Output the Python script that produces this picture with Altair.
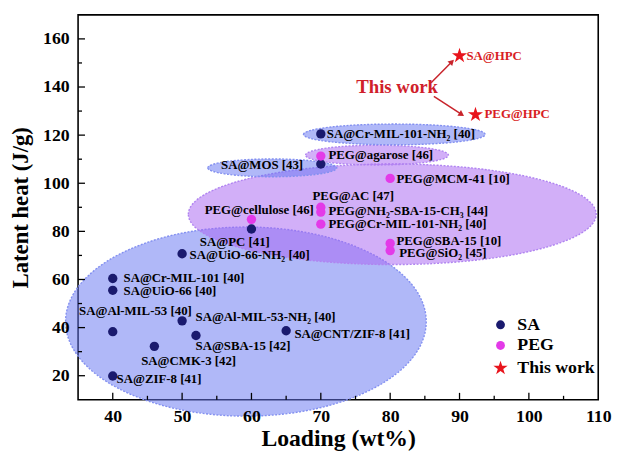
import math
import altair as alt
import pandas as pd

# ---------------- data ----------------
sa_names = ["SA@Cr-MIL-101-NH₂ [40]", "SA@MOS [43]", "SA@PC [41]", "SA@UiO-66-NH₂ [40]",
            "SA@Cr-MIL-101 [40]", "SA@UiO-66 [40]", "SA@Al-MIL-53 [40]", "SA@Al-MIL-53-NH₂ [40]",
            "SA@SBA-15 [42]", "SA@CMK-3 [42]", "SA@CNT/ZIF-8 [41]", "SA@ZIF-8 [41]"]
sa_loading = [70, 70, 60, 50, 40, 40, 40, 50, 52, 46, 65, 40]
sa_heat = [120.5, 108, 81, 70.7, 60.4, 55.5, 38.3, 42.8, 36.7, 32.2, 38.7, 19.9]

peg_names = ["PEG@agarose [46]", "PEG@MCM-41 [10]", "PEG@cellulose [46]", "PEG@AC [47]",
             "PEG@NH₂-SBA-15-CH₃ [44]", "PEG@Cr-MIL-101-NH₂ [40]", "PEG@SBA-15 [10]", "PEG@SiO₂ [45]"]
peg_loading = [70, 80, 60, 70, 70, 70, 80, 80]
peg_heat = [111.3, 102, 85, 90, 88, 83, 75, 72]

hpc_names = ["SA@HPC", "PEG@HPC"]
hpc_loading = [90, 92.3]
hpc_heat = [153, 128.5]

groups = ["SA", "PEG", "This work"]

# label anchors (data units)
sa_lbl_x = [70.86, 67.45, 57.6, 51.08, 41.55, 41.55, 35.14, 51.93, 51.93, 44.1, 66.2, 40.55]
sa_lbl_y = [120.5, 107.6, 75.7, 70.0, 60.6, 55.1, 47.0, 44.2, 32.3, 26.2, 37.2, 18.8]
sa_lbl_align = ["left", "right", "center", "left", "left", "left", "left", "left",
                "left", "left", "left", "left"]
peg_lbl_x = [71.1, 80.9, 69.0, 68.8, 71.1, 71.1, 80.9, 81.3]
peg_lbl_y = [111.7, 101.9, 88.9, 94.6, 88.4, 82.9, 76.0, 70.8]
peg_lbl_align = ["left", "left", "right", "left", "left", "left", "left", "left"]
hpc_lbl_x = [91.0, 93.6]
hpc_lbl_y = [152.8, 128.6]

this_work_x, this_work_y = 81.0, 139.8
arrow_x1 = [85.9, 86.3]
arrow_y1 = [141.8, 136.1]
arrow_x2 = [88.9, 90.3]
arrow_y2 = [150.5, 128.6]

# shaded regions (ellipses): centre and semi-axes in data units
ell_group = ["SA", "PEG", "SA", "PEG", "SA"]
ell_cx = [59.2, 80.3, 63.0, 78.1, 80.6]
ell_cy = [42.5, 87.1, 106.4, 111.7, 120.3]
ell_rx = [26.0, 29.4, 9.3, 10.3, 13.1]
ell_ry = [39.3, 20.9, 3.7, 4.1, 4.3]

# ---------------- layout ----------------
W, H = 527, 390
X_DOMAIN = [35, 110]
Y_DOMAIN = [10, 170]
PPX = W / (X_DOMAIN[1] - X_DOMAIN[0])
PPY = H / (Y_DOMAIN[1] - Y_DOMAIN[0])
FONT = "Liberation Serif"

xs = alt.Scale(domain=X_DOMAIN, nice=False, zero=False)
ys = alt.Scale(domain=Y_DOMAIN, nice=False, zero=False)

AX = alt.Axis(title="Loading (wt%)", values=[40, 50, 60, 70, 80, 90, 100, 110],
              ticks=False, tickSize=0, domain=False, grid=False, labelPadding=8,
              labelFlush=False, titleY=39, titleBaseline="middle", titleFontSize=24, zindex=1)
AY = alt.Axis(title="Latent heat (J/g)", values=[20, 40, 60, 80, 100, 120, 140, 160],
              ticks=False, tickSize=0, domain=False, grid=False, labelPadding=9,
              labelFlush=False, titleX=-58, titleBaseline="middle", zindex=1)

K = 0.5523


def ellipse_path(a):
    ka = K * a
    return (f"M-1,0C-1,{-ka:.4f},{-K},{-a:.4f},0,{-a:.4f}"
            f"C{K},{-a:.4f},1,{-ka:.4f},1,0"
            f"C1,{ka:.4f},{K},{a:.4f},0,{a:.4f}"
            f"C{-K},{a:.4f},-1,{ka:.4f},-1,0Z")


fill_of = {"SA": "#6777f2", "PEG": "#a866f2"}
stroke_of = {"SA": "#8390f0", "PEG": "#b084f0"}
opac_of = {"SA": 0.52, "PEG": 0.52}
ell_rows = []
for g, cx, cy, rx, ry in zip(ell_group, ell_cx, ell_cy, ell_rx, ell_ry):
    rxp, ryp = rx * PPX, ry * PPY
    ell_rows.append(dict(cx=cx, cy=cy, path=ellipse_path(ryp / rxp), op=opac_of[g],
                         size=(2 * rxp) ** 2, fill=fill_of[g], stroke=stroke_of[g]))
ell_df = pd.DataFrame(ell_rows)

pts_df = pd.DataFrame({
    "name": sa_names + peg_names + hpc_names,
    "loading": sa_loading + peg_loading + hpc_loading,
    "heat": sa_heat + peg_heat + hpc_heat,
    "group": ["SA"] * len(sa_names) + ["PEG"] * len(peg_names) + ["This work"] * len(hpc_names),
})

lbl_df = pd.DataFrame({
    "text": sa_names + peg_names + hpc_names,
    "x": sa_lbl_x + peg_lbl_x + hpc_lbl_x,
    "y": sa_lbl_y + peg_lbl_y + hpc_lbl_y,
    "align": sa_lbl_align + peg_lbl_align + ["left", "left"],
    "color": ["black"] * (len(sa_names) + len(peg_names)) + ["#d81e24", "#d81e24"],
})

arr_rows = []
for x1, y1, x2, y2 in zip(arrow_x1, arrow_y1, arrow_x2, arrow_y2):
    dxp = (x2 - x1) * PPX
    dyp = -(y2 - y1) * PPY
    ang = math.degrees(math.atan2(dxp, -dyp)) % 360
    arr_rows.append(dict(x1=x1, y1=y1, x2=x2, y2=y2, angle=ang))
arr_df = pd.DataFrame(arr_rows)

S = 1.7
STAR_PTS = [(0, -1), (0.2245, -0.309), (0.951, -0.309), (0.363, 0.118), (0.588, 0.809),
            (0, 0.382), (-0.588, 0.809), (-0.363, 0.118), (-0.951, -0.309), (-0.2245, -0.309)]
STAR = "M" + "L".join(f"{px * S:.3f},{py * S:.3f}" for px, py in STAR_PTS) + "Z"


def X(f):
    return alt.X(f, type="quantitative", scale=xs, axis=AX)


def Y(f):
    return alt.Y(f, type="quantitative", scale=ys, axis=AY)


ellipses = alt.Chart(ell_df).mark_point(filled=True, opacity=1,
                                        strokeWidth=1.4, strokeDash=[2, 1.5]).encode(
    x=X("cx"), y=Y("cy"),
    shape=alt.Shape("path:N", scale=None),
    size=alt.Size("size:Q", scale=None),
    fill=alt.Fill("fill:N", scale=None),
    stroke=alt.Stroke("stroke:N", scale=None),
    fillOpacity=alt.FillOpacity("op:Q", scale=None),
)

# inward ticks
ymaj = pd.DataFrame({"v": [20, 40, 60, 80, 100, 120, 140, 160]})
ymin = pd.DataFrame({"v": [30, 50, 70, 90, 110, 130, 150]})
xmaj = pd.DataFrame({"v": [40, 50, 60, 70, 80, 90, 100]})
xmin = pd.DataFrame({"v": [45, 55, 65, 75, 85, 95, 105]})
tick_y_major = alt.Chart(ymaj).mark_rule(color="black", strokeWidth=1.3).encode(
    y=Y("v"), x=alt.value(0), x2=alt.value(7))
tick_y_minor = alt.Chart(ymin).mark_rule(color="black", strokeWidth=1.3).encode(
    y=Y("v"), x=alt.value(0), x2=alt.value(4))
tick_x_major = alt.Chart(xmaj).mark_rule(color="black", strokeWidth=1.3).encode(
    x=X("v"), y=alt.value(H), y2=alt.value(H - 7))
tick_x_minor = alt.Chart(xmin).mark_rule(color="black", strokeWidth=1.3).encode(
    x=X("v"), y=alt.value(H), y2=alt.value(H - 4))

points = alt.Chart(pts_df).mark_point(filled=True, opacity=1, strokeWidth=0, size=90).encode(
    x=X("loading"), y=Y("heat"),
    color=alt.Color("group:N", scale=alt.Scale(domain=groups, range=["#1a1a6e", "#e33ae8", "#e8141c"]),
                    legend=alt.Legend(title=None)),
    shape=alt.Shape("group:N", scale=alt.Scale(domain=groups, range=["circle", "circle", STAR]),
                    legend=alt.Legend(title=None)),
    order=alt.Order("heat:Q"),
)


def label_layer(align):
    return alt.Chart(lbl_df).transform_filter(alt.datum.align == align).mark_text(
        align=align, baseline="middle", font=FONT, fontWeight="bold", fontSize=13).encode(
        x=X("x"), y=Y("y"), text="text:N", color=alt.Color("color:N", scale=None))


labels = [label_layer(a) for a in ["left", "right", "center"]]

arrow_lines = alt.Chart(arr_df).mark_rule(color="#c8242b", strokeWidth=1.5).encode(
    x=X("x1"), y=Y("y1"), x2="x2", y2="y2")
arrow_heads = alt.Chart(arr_df).mark_point(shape="triangle-up", filled=True, opacity=1,
                                           color="#c8242b", size=45).encode(
    x=X("x2"), y=Y("y2"), angle=alt.Angle("angle:Q", scale=None))

this_work = alt.Chart(pd.DataFrame({"x": [this_work_x], "y": [this_work_y], "t": ["This work"]})).mark_text(
    font=FONT, fontWeight="bold", fontSize=19, color="#d0202a", align="center", baseline="middle"
).encode(x=X("x"), y=Y("y"), text="t:N")

chart = alt.layer(
    ellipses, tick_y_major, tick_y_minor, tick_x_major, tick_x_minor,
    points, *labels, arrow_lines, arrow_heads, this_work,
).properties(
    width=W, height=H,
    autosize=alt.AutoSizeParams(type="none"),
    padding={"left": 71, "top": 4, "right": 18, "bottom": 51},
).configure_view(
    stroke="black", strokeWidth=1.6
).configure_axis(
    labelFont=FONT, labelFontWeight="bold", labelFontSize=18, labelColor="black",
    titleFont=FONT, titleFontWeight="bold", titleFontSize=23, titleColor="black",
).configure_legend(
    orient="none", legendX=419, legendY=305, padding=0,
    labelFont=FONT, labelFontWeight="bold", labelFontSize=18, labelColor="black",
    rowPadding=3, labelOffset=8, symbolSize=80,
)

chart.save("out.html", embed_options={"renderer": "svg", "actions": False})
